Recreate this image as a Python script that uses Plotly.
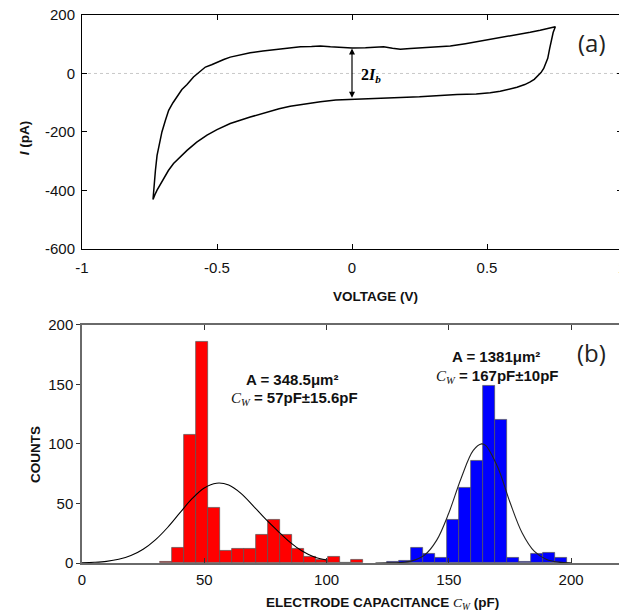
import plotly.graph_objects as go

# ---------------- Panel (a): cyclic voltammogram ----------------
cv_voltage = [-0.737, -0.733, -0.728, -0.722, -0.716, -0.704, -0.691, -0.679, -0.663, -0.648,
              -0.630, -0.611, -0.587, -0.565, -0.543, -0.520, -0.500, -0.475, -0.451, -0.410,
              -0.377, -0.330, -0.278, -0.253, -0.220, -0.191, -0.150, -0.117, -0.080, -0.040,
              0.000, 0.050, 0.100, 0.117, 0.150, 0.179, 0.216, 0.260, 0.300, 0.364,
              0.420, 0.487, 0.550, 0.611, 0.660, 0.697, 0.730, 0.753,
              0.745, 0.741, 0.736, 0.732, 0.725, 0.718, 0.710, 0.700, 0.691, 0.675,
              0.660, 0.640, 0.611, 0.580, 0.549, 0.512, 0.460, 0.389, 0.327, 0.250,
              0.179, 0.120, 0.060, 0.000, -0.060, -0.117, -0.170, -0.229, -0.270, -0.315,
              -0.377, -0.451, -0.500, -0.537, -0.575, -0.611, -0.640, -0.661, -0.680, -0.698,
              -0.712, -0.722, -0.730, -0.737]
cv_current = [-431, -380, -331, -280, -251, -200, -160, -126, -100, -78,
              -55, -38, -12, 5, 22, 30, 39, 48, 56, 64,
              71, 77, 83, 86, 88, 91, 92, 94, 91, 89,
              87, 88, 90, 91, 86, 83, 85, 87, 89, 94,
              102, 113, 122, 131, 141, 148, 155, 160,
              140, 125, 105, 85, 52, 32, 17, 3, -6, -20,
              -29, -38, -47, -55, -61, -66, -70, -72, -76, -80,
              -82, -84, -86, -88, -91, -97, -104, -112, -121, -132,
              -149, -171, -192, -211, -235, -263, -288, -308, -332, -359,
              -382, -399, -415, -431]

v_ticks = [-1, -0.5, 0, 0.5, 1]
v_ticklabels = ["-1", "-0.5", "0", "0.5", "1"]
i_ticks = [-600, -400, -200, 0, 200]
i_ticklabels = ["-600", "-400", "-200", "0", "200"]

ib_top = 85
ib_bottom = -88

# ---------------- Panel (b): capacitance histograms ----------------
red_centers = [34.25, 39.15, 44.05, 48.95, 53.85, 58.75, 63.65, 68.55, 73.45, 78.35,
               83.25, 88.15, 93.05, 97.95, 102.85, 107.75, 112.65]
red_counts = [1, 13, 108, 186, 46, 10, 12, 12, 24, 36, 24, 12, 5, 3, 5, 0, 3]

blue_centers = [127.35, 132.25, 137.15, 142.05, 146.95, 151.85, 156.75, 161.65, 166.55,
                171.45, 176.35, 181.25, 186.15, 191.05, 195.95]
blue_counts = [1, 2, 13, 8, 4, 36, 63, 86, 149, 120, 4, 1, 8, 9, 4]
bin_width = 4.9

red_fit_x = [0, 5, 10, 15, 20, 25, 30, 35, 40, 45, 50, 55, 60, 65, 70, 75, 80, 85, 90, 95, 100]
red_fit_y = [0.2, 0.6, 1.4, 3.1, 6.2, 11.5, 19.4, 29.8, 42, 54, 63, 67, 65.5, 58.5, 48, 37, 27, 17.5, 10, 5, 2.5]

blue_fit_x = [120, 125, 130, 135, 140, 145, 150, 155, 160, 163.4, 165, 170, 175, 180, 185, 190, 195, 200]
blue_fit_y = [0, 0.1, 0.4, 1.8, 6.5, 19, 42, 71, 94.5, 100, 98.7, 80.4, 51, 25.2, 9.7, 2.9, 0.7, 0.1]

c_ticks = [0, 50, 100, 150, 200]
count_ticks = [0, 50, 100, 150, 200]

fig = go.Figure()

fig.add_trace(go.Scatter(x=cv_voltage, y=cv_current, mode="lines",
                         line=dict(color="black", width=1.5), xaxis="x", yaxis="y",
                         showlegend=False, hoverinfo="skip"))

fig.add_trace(go.Bar(x=red_centers, y=red_counts, width=bin_width,
                     marker=dict(color="#FF0000", line=dict(color="#555555", width=0.7)),
                     xaxis="x2", yaxis="y2", showlegend=False))
fig.add_trace(go.Bar(x=blue_centers, y=blue_counts, width=bin_width,
                     marker=dict(color="#0000FF", line=dict(color="#555555", width=0.7)),
                     xaxis="x2", yaxis="y2", showlegend=False))
fig.add_trace(go.Scatter(x=red_fit_x, y=red_fit_y, mode="lines", line_shape="spline",
                         line=dict(color="black", width=1.1), xaxis="x2", yaxis="y2",
                         showlegend=False))
fig.add_trace(go.Scatter(x=blue_fit_x, y=blue_fit_y, mode="lines", line_shape="spline",
                         line=dict(color="#222222", width=1.1), xaxis="x2", yaxis="y2",
                         showlegend=False))

tickfont = dict(family="Liberation Sans, Arial, sans-serif", size=15, color="#111111")

# tick labels for panel (a); the last one (at the plot's right edge) is drawn as an annotation
v_ticktext_axis = v_ticklabels[:-1] + [""]

# the page body has an 8px margin, so the figure is offset to compensate
fig.update_layout(
    width=627, height=606,
    margin=dict(l=74, r=13, t=7, b=51, autoexpand=False),
    paper_bgcolor="white", plot_bgcolor="white",
    barmode="overlay", bargap=0,
    xaxis=dict(domain=[0, 1], range=[-1, 1], tickvals=v_ticks, ticktext=v_ticktext_axis,
               showline=True, linecolor="black", linewidth=1, mirror="ticks",
               ticks="inside", ticklen=5, tickcolor="black", showgrid=False, zeroline=False,
               tickfont=tickfont, anchor="y", automargin=False, ticklabelstandoff=5,
               ticklabeloverflow="allow"),
    yaxis=dict(domain=[0.5732, 1], range=[-600, 200], tickvals=i_ticks, ticktext=i_ticklabels,
               showline=True, linecolor="black", linewidth=1, mirror="ticks",
               ticks="inside", ticklen=5, tickcolor="black", showgrid=False, zeroline=False,
               tickfont=tickfont, anchor="x", automargin=False, ticklabelstandoff=3,
               ticklabeloverflow="allow"),
    xaxis2=dict(domain=[0, 0.9963], range=[0, 220], tickvals=c_ticks,
                showline=True, linecolor="#6a6a6a", linewidth=1.5, mirror="ticks",
                ticks="inside", ticklen=5, tickcolor="#333333", showgrid=False, zeroline=False,
                tickfont=tickfont, anchor="y2", automargin=False, ticklabelstandoff=2,
                ticklabeloverflow="allow"),
    yaxis2=dict(domain=[0, 0.4347], range=[0, 200], tickvals=count_ticks,
                showline=True, linecolor="#6a6a6a", linewidth=1.5, mirror="ticks",
                ticks="outside", ticklen=4, tickcolor="#333333", showgrid=False, zeroline=False,
                tickfont=tickfont, anchor="x2", automargin=False, ticklabeloverflow="allow"),
)

# zero reference line in panel (a)
fig.add_shape(type="line", xref="x", yref="y", x0=-1, x1=1, y0=0, y1=0,
              line=dict(color="#bbbbbb", width=0.8, dash="dot"), layer="below")

title_font = dict(family="Liberation Sans, Arial, sans-serif", size=13.5, color="#111111")
serif = "Liberation Serif, DejaVu Serif, serif"

annotations = [
    # last tick label of panel (a) x axis
    dict(text=v_ticklabels[-1], x=v_ticks[-1], xref="x", y=0.5732, yref="paper",
         yshift=-19, showarrow=False, font=tickfont, xanchor="center", yanchor="middle"),
    # axis titles
    dict(text="<b>VOLTAGE (V)</b>", xref="paper", yref="paper", x=0.5426, y=0.4872,
         showarrow=False, font=title_font, xanchor="center", yanchor="middle"),
    dict(text="<b><i>I</i> (pA)</b>", xref="paper", yref="paper", x=-0.107, y=0.7755,
         showarrow=False, font=title_font, textangle=-90, xanchor="center", yanchor="middle"),
    dict(text="<b>COUNTS</b>", xref="paper", yref="paper", x=-0.087, y=0.197,
         showarrow=False, font=title_font, textangle=-90, xanchor="center", yanchor="middle"),
    dict(text="<b>ELECTRODE CAPACITANCE </b><span style='font-family:" + serif + "'><i>C<sub>W</sub></i></span><b> (pF)</b>",
         xref="paper", yref="paper", x=0.5574, y=-0.073,
         showarrow=False, font=title_font, xanchor="center", yanchor="middle"),
    # panel labels
    dict(text="(a)", xref="paper", yref="paper", x=0.944, y=0.949, showarrow=False,
         font=dict(family="Open Sans, Noto Sans, sans-serif", size=24, color="#222222"),
         xanchor="center", yanchor="middle"),
    dict(text="(b)", xref="paper", yref="paper", x=0.944, y=0.385, showarrow=False,
         font=dict(family="Open Sans, Noto Sans, sans-serif", size=24, color="#222222"),
         xanchor="center", yanchor="middle"),
    # 2Ib arrow and label
    dict(x=0, y=ib_top, ax=0, ay=ib_bottom, xref="x", yref="y", axref="x", ayref="y",
         text="", showarrow=True, arrowhead=2, arrowside="end+start", arrowsize=1,
         arrowwidth=1.2, arrowcolor="black", standoff=0, startstandoff=0),
    dict(text="<b>2<i>I<sub>b</sub></i></b>", x=0.0715, y=-6, xref="x", yref="y",
         showarrow=False, font=dict(family=serif, size=16, color="black"),
         xanchor="center", yanchor="middle"),
    # histogram labels
    dict(text="<b>A = 348.5μm²</b>", x=86, y=154, xref="x2", yref="y2", showarrow=False,
         font=dict(family="Liberation Sans, Arial, sans-serif", size=15, color="#111111"),
         xanchor="center", yanchor="middle"),
    dict(text="<span style='font-family:" + serif + "'><i>C<sub>W</sub></i></span><b> = 57pF±15.6pF</b>",
         x=87, y=138, xref="x2", yref="y2", showarrow=False,
         font=dict(family="Liberation Sans, Arial, sans-serif", size=15, color="#111111"),
         xanchor="center", yanchor="middle"),
    dict(text="<b>A = 1381μm²</b>", x=169.2, y=173.6, xref="x2", yref="y2", showarrow=False,
         font=dict(family="Liberation Sans, Arial, sans-serif", size=15, color="#111111"),
         xanchor="center", yanchor="middle"),
    dict(text="<span style='font-family:" + serif + "'><i>C<sub>W</sub></i></span><b> = 167pF±10pF</b>",
         x=169.7, y=156.8, xref="x2", yref="y2", showarrow=False,
         font=dict(family="Liberation Sans, Arial, sans-serif", size=15, color="#111111"),
         xanchor="center", yanchor="middle"),
]
fig.update_layout(annotations=annotations)

fig.write_html("out.html")
